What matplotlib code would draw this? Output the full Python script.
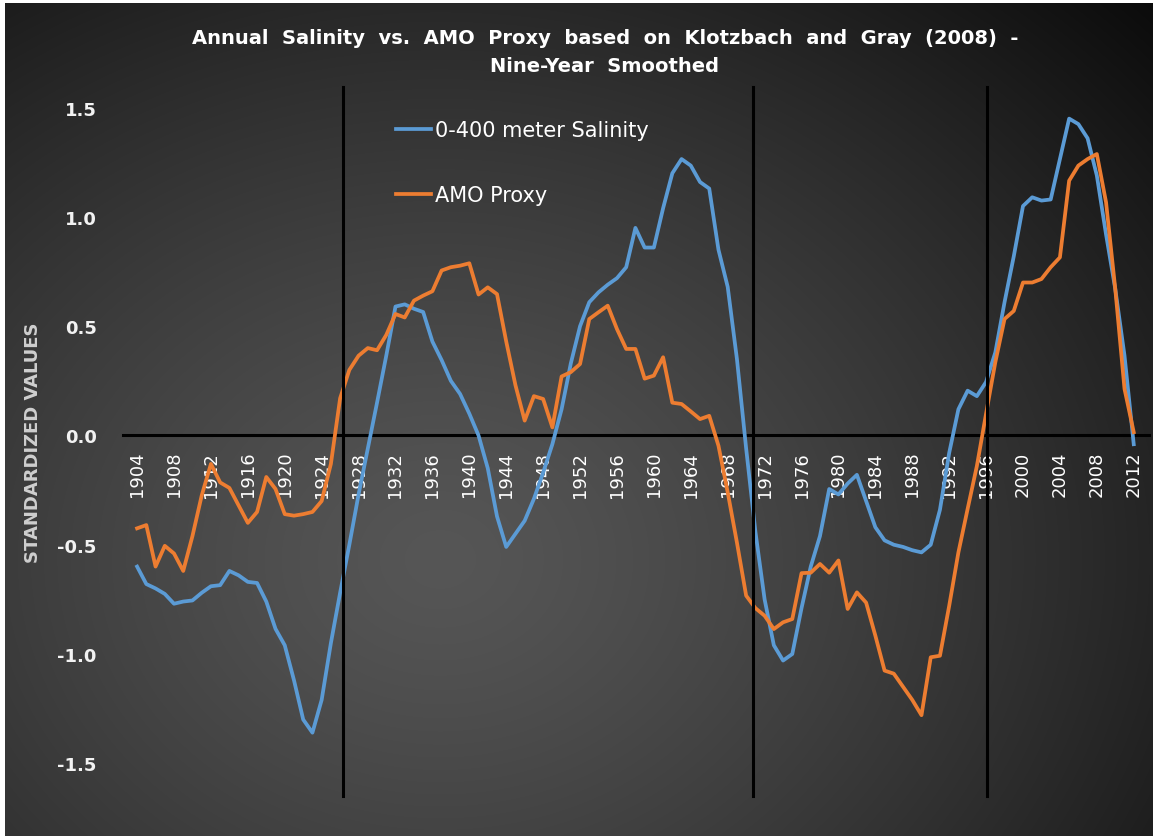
import numpy as np
import matplotlib
matplotlib.use('Agg')
import matplotlib.pyplot as plt

# annual values, 1904-2012
years = list(range(1904, 2013))

salinity = [
    -0.60, -0.68, -0.70, -0.725, -0.77, -0.76, -0.755, -0.72, -0.69, -0.685,   # 1904-1913
    -0.62, -0.64, -0.67, -0.675, -0.76, -0.885, -0.96, -1.12, -1.30, -1.36,    # 1914-1923
    -1.21, -0.95, -0.72, -0.50, -0.27, -0.06, 0.15, 0.365, 0.59, 0.60,         # 1924-1933
    0.58, 0.565, 0.43, 0.345, 0.25, 0.19, 0.10, 0.0, -0.15, -0.37,             # 1934-1943
    -0.51, -0.45, -0.39, -0.29, -0.17, -0.04, 0.12, 0.33, 0.50, 0.61,          # 1944-1953
    0.655, 0.69, 0.72, 0.77, 0.95, 0.86, 0.86, 1.04, 1.20, 1.265,              # 1954-1963
    1.235, 1.16, 1.13, 0.85, 0.68, 0.35, -0.06, -0.44, -0.75, -0.96,           # 1964-1973
    -1.03, -1.00, -0.79, -0.60, -0.46, -0.245, -0.27, -0.22, -0.18, -0.30,     # 1974-1983
    -0.42, -0.48, -0.50, -0.51, -0.525, -0.535, -0.50, -0.34, -0.08, 0.12,     # 1984-1993
    0.205, 0.18, 0.245, 0.38, 0.61, 0.82, 1.05, 1.09, 1.075, 1.08,             # 1994-2003
    1.265, 1.45, 1.425, 1.36, 1.19, 0.92, 0.67, 0.365, -0.04,                  # 2004-2012
]

amo = [
    -0.425, -0.41, -0.60, -0.505, -0.54, -0.62, -0.46, -0.275, -0.13, -0.215,  # 1904-1913
    -0.24, -0.32, -0.40, -0.35, -0.19, -0.245, -0.36, -0.367, -0.36, -0.35,    # 1914-1923
    -0.30, -0.13, 0.17, 0.30, 0.365, 0.40, 0.39, 0.46, 0.556, 0.54,            # 1924-1933
    0.617, 0.64, 0.66, 0.755, 0.77, 0.777, 0.788, 0.645, 0.678, 0.647,         # 1934-1943
    0.43, 0.23, 0.068, 0.18, 0.167, 0.037, 0.27, 0.29, 0.327, 0.533,           # 1944-1953
    0.564, 0.594, 0.487, 0.396, 0.396, 0.26, 0.274, 0.358, 0.15, 0.144,        # 1954-1963
    0.11, 0.075, 0.09, -0.047, -0.26, -0.49, -0.733, -0.79, -0.825, -0.886,    # 1964-1973
    -0.855, -0.84, -0.63, -0.628, -0.588, -0.628, -0.572, -0.794, -0.718, -0.765,  # 1974-1983
    -0.916, -1.076, -1.09, -1.15, -1.21, -1.28, -1.015, -1.008, -0.78, -0.535,  # 1984-1993
    -0.336, -0.14, 0.10, 0.335, 0.533, 0.57, 0.70, 0.70, 0.716, 0.77,          # 1994-2003
    0.815, 1.166, 1.235, 1.265, 1.288, 1.067, 0.67, 0.213, 0.015,              # 2004-2012
]

tick_years = list(range(1904, 2013, 4))
divider_years = [1926.3, 1970.7, 1996.1]

W, H = 1153, 837
fig = plt.figure(figsize=(W / 100, H / 100), dpi=100)

# dark radial background with a thin white edge on the left and top
bg = fig.add_axes([0, 0, 1, 1], zorder=-10)
yy, xx = np.mgrid[0:H, 0:W]
r = np.sqrt(((xx - 440) / 850.0) ** 2 + ((yy - 560) / 700.0) ** 2)
val = (86 - 62 * np.clip(r, 0, 1.2) ** 1.3) / 255.0
img = np.dstack([val, val, val])
img[:4, :, :] = 1.0
img[:, :5, :] = 1.0
bg.imshow(np.clip(img, 0, 1), aspect='auto', interpolation='bilinear')
bg.axis('off')

ax = fig.add_axes([0.1069, 0.0086, 0.890, 0.9268])
ax.set_facecolor('none')

blue = '#5B9BD5'
orange = '#ED7D31'
ax.plot(years, salinity, color=blue, lw=2.7, label='0-400 meter Salinity',
        solid_joinstyle='round', zorder=3)
ax.plot(years, amo, color=orange, lw=2.7, label='AMO Proxy',
        solid_joinstyle='round', zorder=3)

for yr in divider_years:
    ax.plot([yr, yr], [-1.65, 1.595], color='black', lw=2.2, zorder=4)

ax.set_xlim(1902.5, 2013.7)
ax.set_ylim(-1.8, 1.75)

for side in ['left', 'right', 'top']:
    ax.spines[side].set_visible(False)
ax.spines['bottom'].set_position(('data', 0))
ax.spines['bottom'].set_color('black')
ax.spines['bottom'].set_linewidth(2.2)
ax.spines['bottom'].set_zorder(2)

ax.set_xticks(tick_years)
ax.set_xticklabels([str(y) for y in tick_years], rotation=90, color='white',
                   fontsize=13)
ax.tick_params(axis='x', length=0, pad=11)

ax.set_yticks([-1.5, -1.0, -0.5, 0.0, 0.5, 1.0, 1.5])
ax.set_yticklabels(['%.1f' % v for v in [-1.5, -1.0, -0.5, 0.0, 0.5, 1.0, 1.5]],
                   color='#f2f2f2', fontsize=13, fontweight='bold')
ax.tick_params(axis='y', length=0, pad=19)

title = ('Annual  Salinity  vs.  AMO  Proxy  based  on  Klotzbach  and  Gray  (2008)  -\n'
         'Nine-Year  Smoothed')
fig.text(0.5247, 1 - 29 / H, title, ha='center', va='top', color='white',
         fontsize=14, fontweight='bold', linespacing=1.6)

fig.text(33 / W, 1 - 443 / H, 'STANDARDIZED VALUES', rotation=90,
         ha='center', va='center', color='#cfcfcf', fontsize=13, fontweight='bold')

fig.legend(loc='upper left', bbox_to_anchor=(396 / W, 1 - 121 / H), frameon=False,
           fontsize=15, labelcolor='white', handlelength=1.7, handletextpad=0.15,
           labelspacing=2.15, borderpad=0, borderaxespad=0)

fig.savefig('out.png', dpi=100)
